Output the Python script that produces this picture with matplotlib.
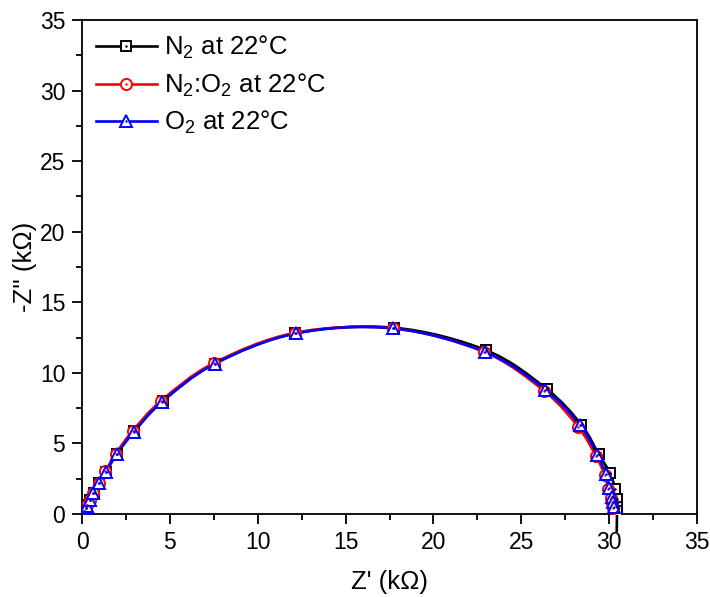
import numpy as np
import matplotlib
matplotlib.use("Agg")
import matplotlib.pyplot as plt
from matplotlib.path import Path
from matplotlib.patches import PathPatch
from matplotlib.lines import Line2D
from matplotlib.ticker import MultipleLocator

plt.rcParams['font.family'] = ['Liberation Sans', 'DejaVu Sans']
plt.rcParams['mathtext.fontset'] = 'custom'
plt.rcParams['mathtext.rm'] = 'Liberation Sans'
plt.rcParams['mathtext.it'] = 'Liberation Sans:italic'
plt.rcParams['mathtext.bf'] = 'Liberation Sans:bold'

# Series data (Z' in kOhm, -Z'' in kOhm)
n2_x = [0.0, 0.03, 0.07, 0.12, 0.2, 0.3, 0.47, 0.66, 0.97, 1.36, 1.97, 2.95, 4.6, 7.55, 12.15,
        17.75, 23.0, 26.45, 28.42, 29.4, 30.05, 30.35, 30.42, 30.45, 30.45, 30.43]
n2_y = [0.0, 0.05, 0.12, 0.22, 0.4, 0.62, 1.0, 1.47, 2.18, 2.98, 4.25, 5.85, 8.0, 10.65, 12.8,
        13.2, 11.6, 8.85, 6.32, 4.25, 2.9, 1.75, 1.05, 0.5, 0.2, -1.3]

n2o2_x = [0.0, 0.03, 0.07, 0.12, 0.2, 0.3, 0.45, 0.63, 0.94, 1.33, 1.92, 2.88, 4.5, 7.5, 12.15,
          17.7, 22.85, 26.3, 28.25, 29.25, 29.75, 29.95, 30.1, 30.15, 30.2]
n2o2_y = [0.0, 0.06, 0.13, 0.24, 0.42, 0.64, 1.02, 1.5, 2.2, 3.02, 4.28, 5.88, 8.02, 10.7, 12.85,
          13.15, 11.5, 8.72, 6.15, 4.1, 2.75, 1.75, 1.15, 0.8, 0.45]

o2_x = [0.0, 0.03, 0.07, 0.12, 0.2, 0.3, 0.46, 0.64, 0.97, 1.35, 1.97, 2.96, 4.54, 7.57, 12.18,
        17.72, 22.94, 26.35, 28.34, 29.33, 29.82, 30.01, 30.18, 30.24, 30.3]
o2_y = [0.0, 0.05, 0.12, 0.22, 0.4, 0.6, 0.99, 1.46, 2.17, 2.97, 4.24, 5.82, 7.94, 10.66, 12.8,
        13.15, 11.48, 8.82, 6.29, 4.17, 2.83, 1.82, 1.22, 0.87, 0.47]

labels = [r'N$_2$ at 22°C', r'N$_2$:O$_2$ at 22°C', r'O$_2$ at 22°C']
colors = ['#000000', '#ff0000', '#0000ff']
markers = ['s', 'o', '^']
msizes = [7.0, 8.0, 9.0]

x_ticks = [0, 5, 10, 15, 20, 25, 30, 35]
y_ticks = [0, 5, 10, 15, 20, 25, 30, 35]


def smooth_path(xs, ys):
    pts = np.column_stack([xs, ys]).astype(float)
    verts = [pts[0]]
    codes = [Path.MOVETO]
    n = len(pts)
    for i in range(n - 1):
        p0 = pts[i - 1] if i > 0 else pts[i]
        p1 = pts[i]
        p2 = pts[i + 1]
        p3 = pts[i + 2] if i + 2 < n else pts[i + 1]
        c1 = p1 + (p2 - p0) / 6.0
        c2 = p2 - (p3 - p1) / 6.0
        verts += [c1, c2, p2]
        codes += [Path.CURVE4] * 3
    return Path(verts, codes)


fig = plt.figure(figsize=(7.10, 5.97), dpi=100)
ax = fig.add_axes([0.1155, 0.139, 0.8662, 0.8275])

series = [(n2_x, n2_y), (n2o2_x, n2o2_y), (o2_x, o2_y)]
handles = []
for (xs, ys), lab, c, m, ms in zip(series, labels, colors, markers, msizes):
    patch = PathPatch(smooth_path(xs, ys), facecolor='none', edgecolor=c, lw=1.9,
                      clip_on=False, zorder=2)
    ax.add_patch(patch)
    mk = [v >= 0 for v in ys]
    xm = [a for a, k in zip(xs, mk) if k]
    ym = [b for b, k in zip(ys, mk) if k]
    ax.plot(xm, ym, linestyle='none', marker=m, markersize=ms,
            markerfacecolor='white', markeredgecolor=c, markeredgewidth=1.4, zorder=3)
    ax.plot(xm, ym, linestyle='none', marker='.', markersize=1.5, color=c, zorder=4)
    h1 = Line2D([], [], color=c, lw=1.9, marker=m, markersize=ms,
                markerfacecolor='white', markeredgecolor=c, markeredgewidth=1.4)
    h2 = Line2D([], [], linestyle='none', marker='.', markersize=1.5, color=c)
    handles.append((h1, h2))

ax.set_xlim(x_ticks[0], x_ticks[-1])
ax.set_ylim(y_ticks[0], y_ticks[-1])
ax.set_xticks(x_ticks)
ax.set_yticks(y_ticks)
ax.xaxis.set_minor_locator(MultipleLocator(2.5))
ax.yaxis.set_minor_locator(MultipleLocator(2.5))
ax.tick_params(which='major', direction='out', length=7, width=1.3, labelsize=16.5, pad=5)
ax.tick_params(which='minor', direction='out', length=4, width=1.3)
ax.tick_params(top=False, right=False)
for s in ax.spines.values():
    s.set_linewidth(1.3)

ax.set_xlabel("Z' (k\u03a9)", fontsize=18.5, labelpad=12)
ax.set_ylabel("-Z'' (k\u03a9)", fontsize=18.5, labelpad=2)

ax.legend(handles, labels, loc='upper left', frameon=False, fontsize=18.5,
          handlelength=2.35, handletextpad=0.3, labelspacing=0.4,
          borderaxespad=0.15, bbox_to_anchor=(0.0, 1.0))

fig.savefig('out.png', dpi=100)
